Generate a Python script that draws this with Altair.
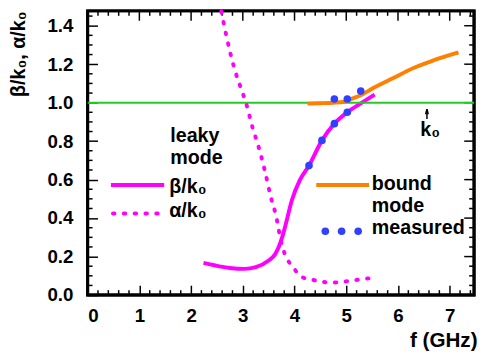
import altair as alt
import pandas as pd

# ---- data ----
beta_f = [2.24, 2.5, 2.75, 3.03, 3.25, 3.5, 3.62, 3.69, 3.76, 3.82, 3.95, 4.1, 4.28, 4.53, 4.77, 5.02, 5.28, 5.55]
beta_v = [0.167, 0.152, 0.141, 0.136, 0.145, 0.18, 0.21, 0.247, 0.30, 0.358, 0.494, 0.596, 0.673, 0.804, 0.891, 0.950, 0.996, 1.042]

alpha_f = [2.585, 2.65, 2.84, 2.97, 3.06, 3.19, 3.31, 3.44, 3.55, 3.63, 3.76, 3.85, 3.95, 4.14, 4.39, 4.71, 5.02, 5.28, 5.56]
alpha_v = [1.475, 1.388, 1.175, 1.07, 1.0, 0.869, 0.766, 0.63, 0.50, 0.426, 0.256, 0.19, 0.153, 0.094, 0.077, 0.065, 0.072, 0.082, 0.09]

bound_f = [4.25, 4.5, 4.75, 4.96, 5.1, 5.28, 5.53, 5.91, 6.29, 6.67, 7.17]
bound_v = [0.995, 0.997, 1.0, 1.005, 1.02, 1.039, 1.077, 1.128, 1.179, 1.218, 1.261]

meas_f = [4.28, 4.53, 4.77, 5.02, 4.77, 5.02, 5.28]
meas_v = [0.673, 0.804, 0.891, 0.950, 1.019, 1.019, 1.06]

x_ticks = [0, 1, 2, 3, 4, 5, 6, 7]
y_ticks = [0.0, 0.2, 0.4, 0.6, 0.8, 1.0, 1.2, 1.4]
x_minor = [0.2, 0.4, 0.6, 0.8, 1.2, 1.4, 1.6, 1.8, 2.2, 2.4, 2.6, 2.8, 3.2, 3.4, 3.6, 3.8,
           4.2, 4.4, 4.6, 4.8, 5.2, 5.4, 5.6, 5.8, 6.2, 6.4, 6.6, 6.8, 7.2, 7.4]
y_minor = [0.05, 0.1, 0.15, 0.25, 0.3, 0.35, 0.45, 0.5, 0.55, 0.65, 0.7, 0.75, 0.85, 0.9, 0.95,
           1.05, 1.1, 1.15, 1.25, 1.3, 1.35, 1.45]

W, H = 393, 289
XD = [0, 7.471]
YD = [0, 1.477]
FONT = "Liberation Sans"
MAG = "#ff00ff"
ORA = "#ff8000"
BLU = "#3040ff"
GRN = "#22cc22"
TL = 10   # major tick length (px)
TM = 5    # minor tick length (px)

xs = alt.Scale(domain=XD, nice=False, zero=False)
ys = alt.Scale(domain=YD, nice=False, zero=False)

lab = dict(labelFont=FONT, labelFontSize=19, labelFontWeight="bold", labelColor="black",
           titleFont=FONT, titleFontWeight="bold", titleColor="black",
           grid=False, domain=False, ticks=True, tickSize=TL, tickWidth=1.5,
           tickColor="black", offset=-TL)

# main axes: pulled inside by the tick length so that the ticks point inward
xenc = alt.X("f:Q", scale=xs,
             axis=alt.Axis(values=x_ticks, format="d", title="f (GHz)",
                           titleAlign="right", titleX=396, titleY=52 + TL, titleAnchor="end",
                           titleBaseline="alphabetic", titleFontSize=21,
                           labelPadding=12, **lab))
yenc = alt.Y("v:Q", scale=ys,
             axis=alt.Axis(values=y_ticks, format=".1f", title="β/k₀, α/k₀",
                           titleAngle=270, titleAlign="right", titleBaseline="middle",
                           titleAnchor="end",
                           titleX=-70 - TL, titleY=0, titleFontSize=20,
                           labelPadding=15, **lab))

def X():
    return alt.X("f:Q", scale=xs)

def Y():
    return alt.Y("v:Q", scale=ys)

def series(name, f, v):
    return pd.DataFrame({"s": [name] * len(f), "f": f, "v": v})

# ---- magenta solid (beta + legend sample); carries the axes ----
mag_df = pd.concat([series("beta", beta_f, beta_v),
                    series("leg_beta", [0.45, 1.48], [0.572, 0.572])], ignore_index=True)
mag = alt.Chart(mag_df).mark_line(color=MAG, strokeWidth=4, interpolate="monotone").encode(
    x=xenc, y=yenc, detail="s:N")

# ---- frame drawn as an outlined rectangle over the full domain ----
frame = alt.Chart(pd.DataFrame({"f": [XD[0]], "f2": [XD[1]], "v": [YD[0]], "v2": [YD[1]]})).mark_rect(
    fill=None, filled=False, stroke="black", strokeWidth=3).encode(
    x=X(), x2="f2:Q", y=Y(), y2="v2:Q")

# ---- remaining inward ticks (minor ticks, top and right sides) ----
xt_df = pd.DataFrame({"f": x_minor})
yt_df = pd.DataFrame({"v": y_minor})
xt_maj = pd.DataFrame({"f": x_ticks})
yt_maj = pd.DataFrame({"v": y_ticks})
rule = dict(color="black", strokeWidth=1.5)
tick_layers = [
    alt.Chart(xt_df).mark_rule(**rule).encode(x=X(), y=alt.value(H), y2=alt.value(H - TM)),
    alt.Chart(xt_df).mark_rule(**rule).encode(x=X(), y=alt.value(0), y2=alt.value(TM)),
    alt.Chart(xt_maj).mark_rule(**rule).encode(x=X(), y=alt.value(0), y2=alt.value(TL)),
    alt.Chart(yt_df).mark_rule(**rule).encode(y=Y(), x=alt.value(0), x2=alt.value(TM)),
    alt.Chart(yt_df).mark_rule(**rule).encode(y=Y(), x=alt.value(W), x2=alt.value(W - TM)),
    alt.Chart(yt_maj).mark_rule(**rule).encode(y=Y(), x=alt.value(W), x2=alt.value(W - TL)),
]

# ---- k0 marker arrow (segments in data units) ----
arrow_df = pd.DataFrame([(6.56, 0.915, 6.56, 0.966),
                         (6.56, 0.966, 6.535, 0.940),
                         (6.56, 0.966, 6.585, 0.940)],
                        columns=["f", "v", "f2", "v2"])
arrow = alt.Chart(arrow_df).mark_rule(color="black", strokeWidth=1.5).encode(
    x=X(), y=Y(), x2="f2:Q", y2="v2:Q")

# ---- k0 reference line ----
green = alt.Chart(pd.DataFrame({"v": [1.0]})).mark_rule(color=GRN, strokeWidth=2).encode(y=Y())

# ---- orange solid (bound mode + legend sample) ----
ora_df = pd.concat([series("bound", bound_f, bound_v),
                    series("leg_bound", [4.42, 5.44], [0.572, 0.572])], ignore_index=True)
ora = alt.Chart(ora_df).mark_line(color=ORA, strokeWidth=4, interpolate="monotone").encode(
    x=X(), y=Y(), detail="s:N")

# ---- dotted alpha (curve + legend sample) ----
dot_df = pd.concat([series("alpha", alpha_f, alpha_v),
                    series("leg_alpha", [0.49, 1.36], [0.424, 0.424])], ignore_index=True)
dotted = alt.Chart(dot_df).mark_line(
    color=MAG, strokeWidth=4, strokeDash=[1.5, 9.5], strokeCap="round",
    interpolate="monotone").encode(x=X(), y=Y(), detail="s:N")

# ---- measured points + legend sample ----
pts_df = pd.DataFrame({"f": meas_f + [4.595, 4.91, 5.23],
                       "v": meas_v + [0.332, 0.332, 0.332]})
pts = alt.Chart(pts_df).mark_circle(color=BLU, size=60, opacity=1).encode(x=X(), y=Y())

# ---- texts ----
labels = pd.DataFrame({
    "f": [1.597, 1.597, 1.578, 1.578, 5.494, 5.494, 5.494, 6.43],
    "v": [0.794, 0.680, 0.531, 0.404, 0.547, 0.431, 0.317, 0.828],
    "t": ["leaky", "mode", "β/k₀", "α/k₀", "bound", "mode", "measured", "k₀"],
})
txt = alt.Chart(labels).mark_text(align="left", baseline="alphabetic", font=FONT,
                                  fontSize=20, fontWeight="bold", color="black").encode(
    x=X(), y=Y(), text="t:N")

chart = alt.layer(mag, frame, *tick_layers, green, dotted, ora, pts, txt, arrow).properties(
    width=W, height=H,
    background="white",
    autosize=alt.AutoSizeParams(type="none"),
    padding={"left": 81, "top": 0, "right": 4, "bottom": 57},
).configure_view(stroke="black", strokeWidth=3)

chart.save("out.html", embed_options={"renderer": "svg", "actions": False})
